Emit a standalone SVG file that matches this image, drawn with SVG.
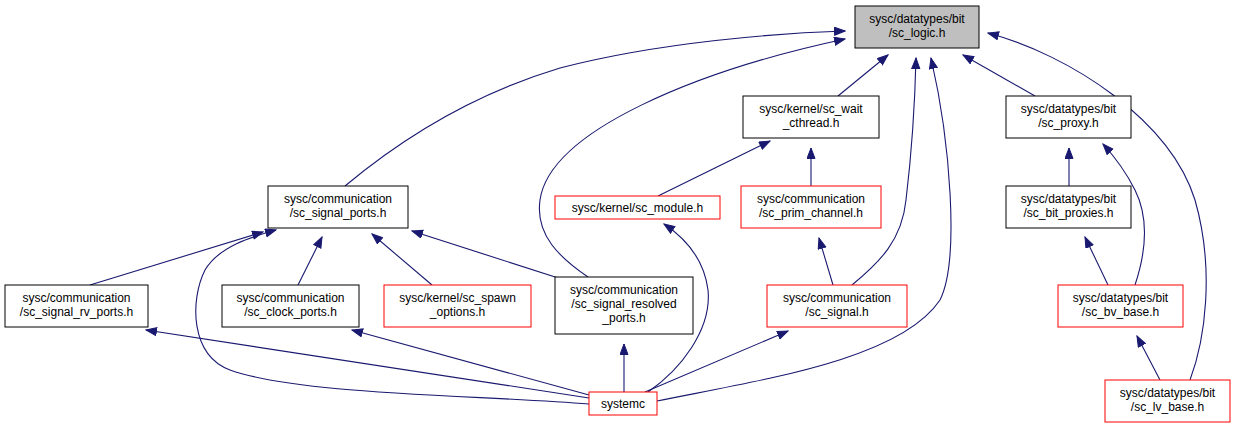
<svg xmlns="http://www.w3.org/2000/svg" width="1236" height="429" viewBox="0 0 1236 429">
<style>
  .n rect { fill: #ffffff; stroke: #000000; stroke-width: 1; }
  .n.root rect { fill: #bfbfbf; }
  .n.red rect { stroke: #ff0000; }
  .n text { font-family: "Liberation Sans", Arial, sans-serif; font-size: 12px; fill: #000000; text-anchor: middle; }
  .e path { fill: none; stroke: #191970; stroke-width: 1.1; marker-end: url(#ah); }
</style>
<defs>
  <marker id="ah" markerUnits="userSpaceOnUse" markerWidth="12" markerHeight="10" refX="11" refY="4.5" orient="auto">
    <path d="M0.5,0.5 L11,4.5 L0.5,8.5 z" fill="#191970" stroke="#191970" stroke-width="1"/>
  </marker>
</defs>
<rect width="1236" height="429" fill="#ffffff"/>
<g id="connectors" class="e">
  <path d="M838,96 L888,55"/>
  <path d="M1035,96 L963,55"/>
  <path d="M345,186 C400,140 470,95 560,68 C660,42 780,33 845,31"/>
  <path d="M588,277 C560,258 535,235 540,200 C550,130 700,70 845,39"/>
  <path d="M852,285 C880,262 902,240 906,200 C912,150 915,100 916,58"/>
  <path d="M657,401 C760,380 900,360 940,300 C960,260 950,140 931,58"/>
  <path d="M1190,380 C1205,340 1215,270 1195,200 C1170,120 1070,55 988,33"/>
  <path d="M811,186 L811,148"/>
  <path d="M658,196 L770,141"/>
  <path d="M1069,186 L1069,148"/>
  <path d="M1135,285 C1145,255 1150,220 1135,190 C1125,170 1113,155 1103,144"/>
  <path d="M1108,285 L1085,237"/>
  <path d="M1160,380 L1137,336"/>
  <path d="M833,285 L819,238"/>
  <path d="M645,392 L788,331"/>
  <path d="M624,392 L624,344"/>
  <path d="M648,392 C680,370 712,330 708,290 C704,258 685,238 664,224"/>
  <path d="M589,395 L352,330"/>
  <path d="M589,398 L146,330"/>
  <path d="M589,404 C480,395 300,395 230,370 C190,355 190,300 205,270 C220,245 255,236 276,230"/>
  <path d="M90,285 L263,232"/>
  <path d="M298,285 L322,237"/>
  <path d="M432,285 L372,234"/>
  <path d="M580,285 L412,231"/>
</g>
<g id="node-sc_logic" class="n root">
  <rect x="855" y="6" width="124" height="42"/>
  <text x="917" y="23">sysc/datatypes/bit</text>
  <text x="917" y="37">/sc_logic.h</text>
</g>
<g id="node-sc_wait_cthread" class="n">
  <rect x="743" y="96" width="136" height="42"/>
  <text x="811" y="113">sysc/kernel/sc_wait</text>
  <text x="811" y="127">_cthread.h</text>
</g>
<g id="node-sc_proxy" class="n">
  <rect x="1006" y="96" width="125" height="42"/>
  <text x="1068.5" y="113">sysc/datatypes/bit</text>
  <text x="1068.5" y="127">/sc_proxy.h</text>
</g>
<g id="node-sc_signal_ports" class="n">
  <rect x="268" y="186" width="140" height="42"/>
  <text x="338" y="203">sysc/communication</text>
  <text x="338" y="217">/sc_signal_ports.h</text>
</g>
<g id="node-sc_module" class="n red">
  <rect x="555" y="196" width="165" height="23"/>
  <text x="637.5" y="212">sysc/kernel/sc_module.h</text>
</g>
<g id="node-sc_prim_channel" class="n red">
  <rect x="741" y="186" width="140" height="42"/>
  <text x="811" y="203">sysc/communication</text>
  <text x="811" y="217">/sc_prim_channel.h</text>
</g>
<g id="node-sc_bit_proxies" class="n">
  <rect x="1006" y="186" width="125" height="42"/>
  <text x="1068.5" y="203">sysc/datatypes/bit</text>
  <text x="1068.5" y="217">/sc_bit_proxies.h</text>
</g>
<g id="node-sc_signal_rv_ports" class="n">
  <rect x="5" y="285" width="143" height="42"/>
  <text x="76.5" y="302">sysc/communication</text>
  <text x="76.5" y="316">/sc_signal_rv_ports.h</text>
</g>
<g id="node-sc_clock_ports" class="n">
  <rect x="222" y="285" width="137" height="42"/>
  <text x="290.5" y="302">sysc/communication</text>
  <text x="290.5" y="316">/sc_clock_ports.h</text>
</g>
<g id="node-sc_spawn_options" class="n red">
  <rect x="384" y="285" width="147" height="42"/>
  <text x="457.5" y="302">sysc/kernel/sc_spawn</text>
  <text x="457.5" y="316">_options.h</text>
</g>
<g id="node-sc_signal_resolved_ports" class="n">
  <rect x="555" y="277" width="138" height="57"/>
  <text x="624" y="294">sysc/communication</text>
  <text x="624" y="308">/sc_signal_resolved</text>
  <text x="624" y="322">_ports.h</text>
</g>
<g id="node-sc_signal" class="n red">
  <rect x="767" y="285" width="140" height="42"/>
  <text x="837" y="302">sysc/communication</text>
  <text x="837" y="316">/sc_signal.h</text>
</g>
<g id="node-sc_bv_base" class="n red">
  <rect x="1058" y="285" width="125" height="42"/>
  <text x="1120.5" y="302">sysc/datatypes/bit</text>
  <text x="1120.5" y="316">/sc_bv_base.h</text>
</g>
<g id="node-sc_lv_base" class="n red">
  <rect x="1105" y="380" width="125" height="42"/>
  <text x="1167.5" y="397">sysc/datatypes/bit</text>
  <text x="1167.5" y="411">/sc_lv_base.h</text>
</g>
<g id="node-systemc" class="n red">
  <rect x="589" y="392" width="68" height="23"/>
  <text x="623" y="408">systemc</text>
</g>
</svg>
